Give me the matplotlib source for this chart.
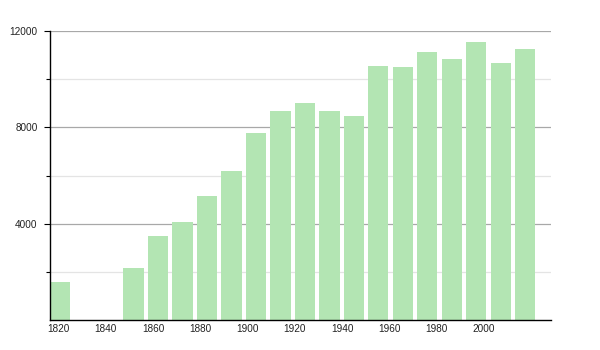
import matplotlib
matplotlib.use("Agg")
import matplotlib.pyplot as plt
import numpy as np

years = [1820, 1850, 1860, 1870, 1880, 1890, 1900, 1910, 1920, 1930,
         1940, 1950, 1960, 1970, 1980, 1990, 2000, 2010]
population = [1580, 2170, 3490, 4070, 5160, 6170, 7750, 8680, 9010, 8680,
              8460, 10550, 10500, 11130, 10840, 11540, 10670, 11240]
tick_labels = ["1820", "1840", "1860", "1880", "1900", "1920", "1940",
               "1960", "1980", "2000"]
y_major = [4000, 8000, 12000]
y_minor = [2000, 6000, 10000]

plt.rcParams['font.family'] = ['Liberation Sans', 'DejaVu Sans']

fig = plt.figure(figsize=(6, 3.5), dpi=100)
ax = fig.add_axes([50/600, 30/350, 501/600, 289/350])

ax.bar(years, population, width=8.3, align='edge', color='#b3e5b3',
       edgecolor='none', zorder=3)

ax.set_xlim(1820, 2024.7)
ax.set_ylim(0, 12000)

for v in y_major:
    ax.axhline(v, color='#a8a8a8', lw=0.9, zorder=1)
for v in y_minor:
    ax.axhline(v, color='#e4e4e4', lw=0.9, zorder=1)

ax.set_yticks(y_major)
ax.set_yticklabels([str(v) for v in y_major], fontsize=7.2, color='#222222')
ax.set_yticks(y_minor, minor=True)
ax.tick_params(axis='y', which='major', length=4, width=0.8, pad=5)
ax.tick_params(axis='y', which='minor', length=3, width=0.8)

tick_pos = np.linspace(1823.5, 1997.3, len(tick_labels))
ax.set_xticks(tick_pos)
ax.set_xticklabels(tick_labels, fontsize=7.2, color='#222222')
ax.tick_params(axis='x', length=0, pad=3)

for s in ['top', 'right']:
    ax.spines[s].set_visible(False)
ax.spines['left'].set_linewidth(1.0)
ax.spines['bottom'].set_linewidth(1.0)
ax.spines['left'].set_zorder(4)
ax.spines['bottom'].set_zorder(4)

fig.savefig("out.png", dpi=100)
